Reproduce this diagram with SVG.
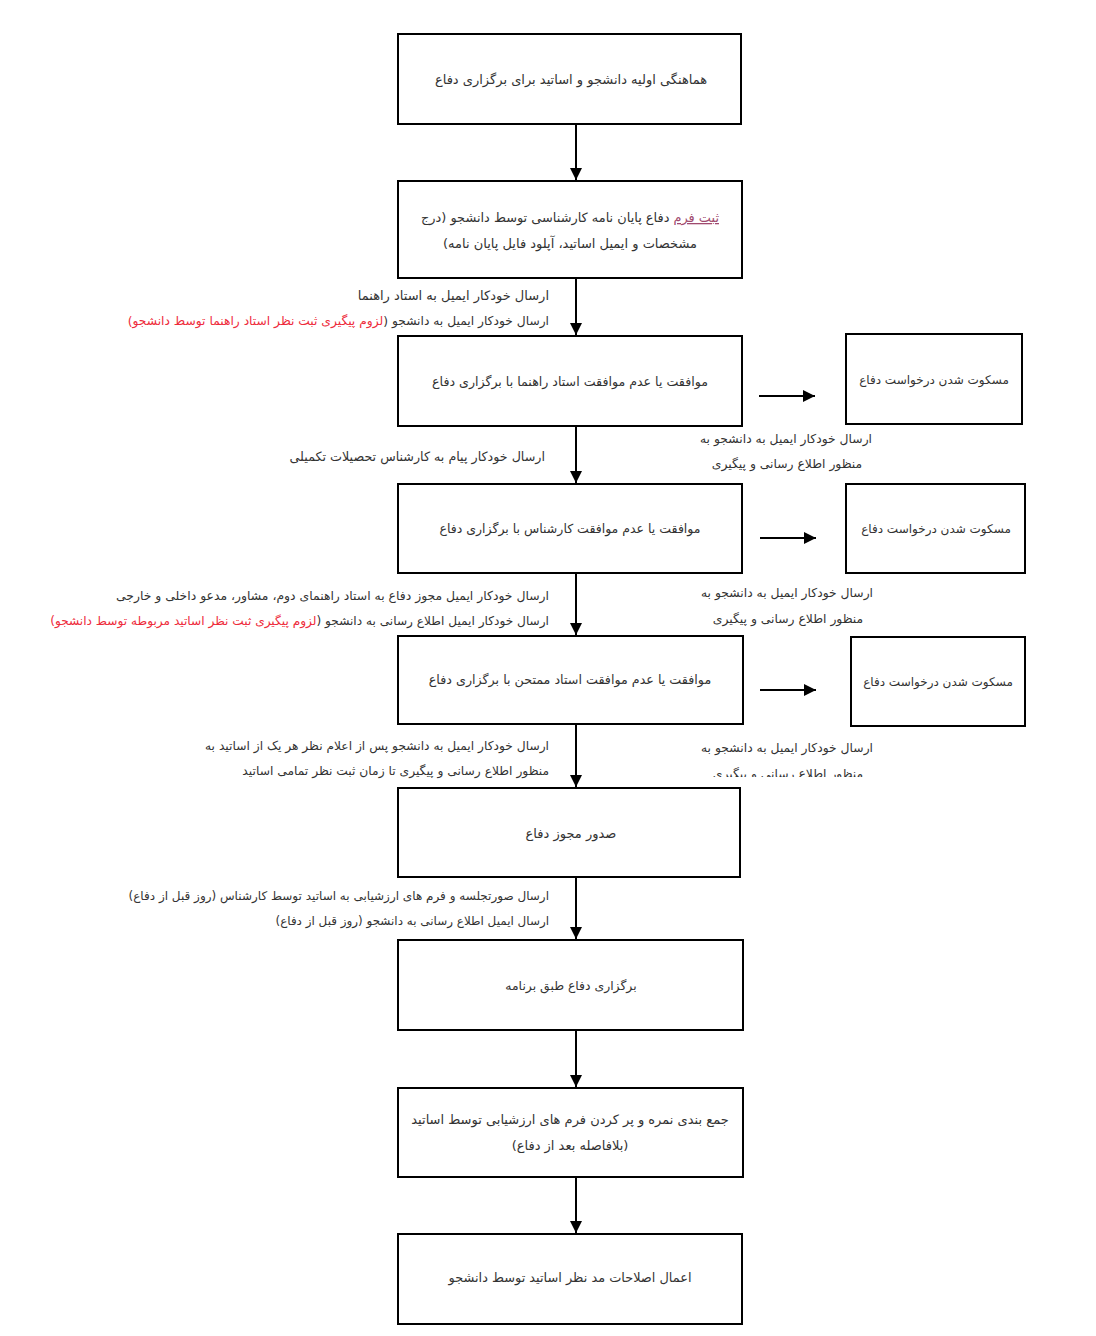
<svg xmlns="http://www.w3.org/2000/svg" width="1096" height="1336" viewBox="0 0 1096 1336">
<style>
.box{fill:#fff;stroke:#000;stroke-width:2}
.t{font-family:"DejaVu Sans","Noto Sans",sans-serif;font-size:13px;fill:#333;direction:rtl}
.c{text-anchor:middle}
.r{text-anchor:start}
.red{fill:#ee2b3b}
.lnk{fill:#a04a6e;text-decoration:underline}
.ln{stroke:#000;stroke-width:2;fill:none}
.side{font-size:12px}
.note{font-size:12.35px}
</style>
<defs>
<marker id="ah" viewBox="0 0 10 10" refX="10" refY="5" markerWidth="6" markerHeight="6" orient="auto" markerUnits="strokeWidth">
<path d="M0,0 L10,5 L0,10 z" fill="#000"/>
</marker>
<clipPath id="cl3"><rect x="600" y="730" width="300" height="47"/></clipPath>
</defs>
<rect width="1096" height="1336" fill="#fff"/>
<g id="connectors">
<line class="ln" x1="576" y1="124" x2="576" y2="180" marker-end="url(#ah)"/>
<line class="ln" x1="576" y1="278" x2="576" y2="335" marker-end="url(#ah)"/>
<line class="ln" x1="576" y1="426" x2="576" y2="483" marker-end="url(#ah)"/>
<line class="ln" x1="576" y1="573" x2="576" y2="635" marker-end="url(#ah)"/>
<line class="ln" x1="576" y1="724" x2="576" y2="787" marker-end="url(#ah)"/>
<line class="ln" x1="576" y1="877" x2="576" y2="939" marker-end="url(#ah)"/>
<line class="ln" x1="576" y1="1030" x2="576" y2="1087" marker-end="url(#ah)"/>
<line class="ln" x1="576" y1="1177" x2="576" y2="1233" marker-end="url(#ah)"/>
<line class="ln" x1="759" y1="396" x2="815" y2="396" marker-end="url(#ah)"/>
<line class="ln" x1="760" y1="538" x2="816" y2="538" marker-end="url(#ah)"/>
<line class="ln" x1="760" y1="690" x2="816" y2="690" marker-end="url(#ah)"/>
</g>
<g id="labels">
<text class="t r" x="549" y="300">ارسال خودکار  ایمیل به  استاد راهنما</text>
<text class="t r" x="549" y="325" style="font-size:12.27px">ارسال خودکار ایمیل به دانشجو (<tspan class="red">لزوم پیگیری ثبت نظر استاد راهنما توسط دانشجو)</tspan></text>
<text class="t r" x="545" y="461" style="font-size:12.7px">ارسال خودکار پیام به کارشناس تحصیلات تکمیلی</text>
<text class="t c note" x="786" y="443">ارسال خودکار ایمیل به دانشجو به</text>
<text class="t c note" x="787" y="468">منظور اطلاع رسانی و پیگیری</text>
<text class="t r" x="549" y="600" style="font-size:12.4px">ارسال خودکار  ایمیل مجوز دفاع به استاد راهنمای دوم، مشاور، مدعو داخلی و خارجی</text>
<text class="t r" x="549" y="625" style="font-size:12.15px">ارسال خودکار ایمیل اطلاع رسانی به دانشجو (<tspan class="red">لزوم پیگیری ثبت نظر اساتید مربوطه توسط دانشجو)</tspan></text>
<text class="t c note" x="787" y="597">ارسال خودکار ایمیل به دانشجو به</text>
<text class="t c note" x="788" y="623">منظور اطلاع رسانی و پیگیری</text>
<text class="t r" x="549" y="750" style="font-size:12.25px">ارسال خودکار ایمیل به دانشجو پس از اعلام نظر هر یک از اساتید به</text>
<text class="t r" x="549" y="775" style="font-size:12.28px">منظور اطلاع رسانی و پیگیری تا زمان ثبت نظر تمامی اساتید</text>
<text class="t c note" x="787" y="752">ارسال خودکار ایمیل به دانشجو به</text>
<text class="t c note" x="788" y="778" clip-path="url(#cl3)">منظور اطلاع رسانی و پیگیری</text>
<text class="t r" x="549" y="900" style="font-size:12px">ارسال صورتجلسه و فرم های ارزشیابی به اساتید توسط کارشناس (روز قبل از دفاع)</text>
<text class="t r" x="549" y="925" style="font-size:11.95px">ارسال ایمیل اطلاع رسانی به دانشجو (روز قبل از دفاع)</text>
</g>
<g id="n1"><rect class="box" x="398" y="34" width="343" height="90"/>
<text class="t c" x="571" y="84">هماهنگی اولیه دانشجو و اساتید برای برگزاری دفاع</text></g>
<g id="n2"><rect class="box" x="398" y="181" width="344" height="97"/>
<text class="t c" x="570" y="222" style="font-size:12.9px"><tspan class="lnk">ثبت فرم</tspan> دفاع پایان نامه کارشناسی توسط دانشجو (درج</text>
<text class="t c" x="570" y="248">مشخصات و ایمیل اساتید، آپلود فایل پایان نامه)</text></g>
<g id="n3"><rect class="box" x="398" y="336" width="344" height="90"/>
<text class="t c" x="570" y="386" style="font-size:12.6px">موافقت یا عدم موافقت استاد راهنما با برگزاری دفاع</text></g>
<g id="s1"><rect class="box" x="846" y="334" width="176" height="90"/>
<text class="t c side" x="934" y="384">مسکوت شدن درخواست دفاع</text></g>
<g id="n4"><rect class="box" x="398" y="484" width="344" height="89"/>
<text class="t c" x="570" y="533" style="font-size:12.5px">موافقت یا عدم موافقت کارشناس با برگزاری دفاع</text></g>
<g id="s2"><rect class="box" x="846" y="484" width="179" height="89"/>
<text class="t c side" x="936" y="533">مسکوت شدن درخواست دفاع</text></g>
<g id="n5"><rect class="box" x="398" y="636" width="345" height="88"/>
<text class="t c" x="570" y="684" style="font-size:12.7px">موافقت یا عدم موافقت استاد ممتحن با برگزاری دفاع</text></g>
<g id="s3"><rect class="box" x="851" y="637" width="174" height="89"/>
<text class="t c side" x="938" y="686">مسکوت شدن درخواست دفاع</text></g>
<g id="n6"><rect class="box" x="398" y="788" width="342" height="89"/>
<text class="t c" x="571" y="838">صدور مجوز دفاع</text></g>
<g id="n7"><rect class="box" x="398" y="940" width="345" height="90"/>
<text class="t c" x="571" y="990" style="font-size:12.4px">برگزاری دفاع طبق برنامه</text></g>
<g id="n8"><rect class="box" x="398" y="1088" width="345" height="89"/>
<text class="t c" x="570" y="1124">جمع بندی نمره و پر کردن فرم های ارزشیابی توسط اساتید</text>
<text class="t c" x="570" y="1150">(بلافاصله بعد از دفاع)</text></g>
<g id="n9"><rect class="box" x="398" y="1234" width="344" height="90"/>
<text class="t c" x="570" y="1282" style="font-size:12.9px">اعمال اصلاحات مد نظر اساتید توسط دانشجو</text></g>
</svg>
